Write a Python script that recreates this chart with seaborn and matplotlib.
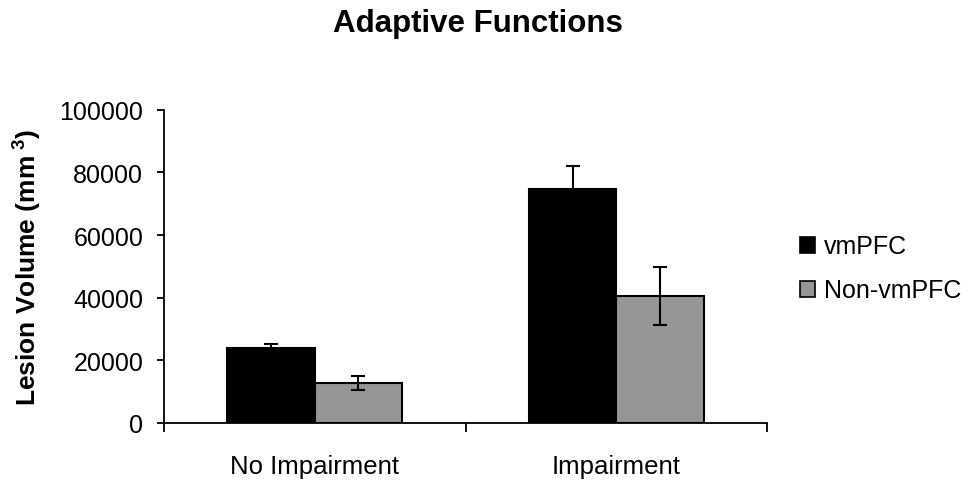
import matplotlib
matplotlib.use("Agg")
import matplotlib.pyplot as plt
import seaborn as sns
import pandas as pd
import numpy as np
from matplotlib.patches import Rectangle

# ---- data ----
categories = ["No Impairment", "Impairment"]
groups = ["vmPFC", "Non-vmPFC"]
vmpfc_values = [24000, 74800]
non_vmpfc_values = [12700, 40600]
vmpfc_errors = [1200, 7200]
non_vmpfc_errors = [2300, 9300]
y_ticks = [0, 20000, 40000, 60000, 80000, 100000]
title = "Adaptive Functions"
y_label = r"Lesion Volume (mm$^{\mathbf{\ 3}}$)"

colors = {"vmPFC": "#000000", "Non-vmPFC": "#969696"}

df = pd.DataFrame({
    "category": categories * 2,
    "group": [groups[0]] * 2 + [groups[1]] * 2,
    "value": vmpfc_values + non_vmpfc_values,
})
errors = {"vmPFC": vmpfc_errors, "Non-vmPFC": non_vmpfc_errors}

sns.set_theme(style="white")
plt.rcParams["font.family"] = ["Liberation Sans", "DejaVu Sans"]
plt.rcParams.update({"text.color": "black", "axes.labelcolor": "black",
                     "xtick.color": "black", "ytick.color": "black",
                     "mathtext.fontset": "custom",
                     "mathtext.rm": "Liberation Sans",
                     "mathtext.bf": "Liberation Sans:bold"})

fig = plt.figure(figsize=(9.77, 4.85), dpi=100)
ax = fig.add_axes([164 / 977, 1 - 424 / 485, (767 - 164) / 977, (424 - 110.7) / 485])

sns.barplot(data=df, x="category", y="value", hue="group", order=categories,
            hue_order=groups, palette=colors, errorbar=None, width=0.58,
            edgecolor="black", linewidth=1.5, ax=ax, legend=False, saturation=1)

for cont, g in zip(ax.containers, groups):
    xs = [p.get_x() + p.get_width() / 2 for p in cont.patches]
    ys = [p.get_height() for p in cont.patches]
    ax.errorbar(xs, ys, yerr=errors[g], fmt="none", ecolor="black",
                elinewidth=1.5, capsize=5, capthick=1.5, zorder=5)

ax.set_xlim(-0.5, 1.5)
ax.set_ylim(0, 100000)
ax.set_yticks(y_ticks)
ax.set_yticklabels([str(t) for t in y_ticks], fontsize=18)
ax.tick_params(axis="y", which="major", direction="out", length=5, width=1.3,
               color="black", labelcolor="black", pad=10, left=True)
ax.set_xticks(range(len(categories)))
ax.set_xticklabels(categories, fontsize=18.5)
ax.tick_params(axis="x", which="major", length=0, pad=22.5, labelcolor="black")
ax.set_xticks([-0.5, 0.5, 1.5], minor=True)
ax.tick_params(axis="x", which="minor", direction="out", length=6.5, width=1.3,
               color="black", bottom=True)

for s in ["top", "right"]:
    ax.spines[s].set_visible(False)
for s in ["left", "bottom"]:
    ax.spines[s].set_color("black")
    ax.spines[s].set_linewidth(1.3)

ax.set_xlabel("")
ax.set_ylabel(y_label, fontsize=19, fontweight="bold", color="black")
ax.yaxis.set_label_coords((43 - 164) / 603, 0.5)

fig.text(478 / 977, 1 - 24 / 485, title, ha="center", va="center",
         fontsize=22.5, fontweight="bold", color="black")

handles = [Rectangle((0, 0), 1, 1, facecolor=colors[g], edgecolor="black", linewidth=1.2)
           for g in groups]
fig.legend(handles, groups, loc="center left", bbox_to_anchor=(800 / 977, 1 - 269.5 / 485),
           frameon=False, fontsize=18, handlelength=0.6, handleheight=0.6,
           handletextpad=0.35, labelspacing=0.8, borderpad=0, borderaxespad=0,
           labelcolor="black")

fig.savefig("out.png", dpi=100)
